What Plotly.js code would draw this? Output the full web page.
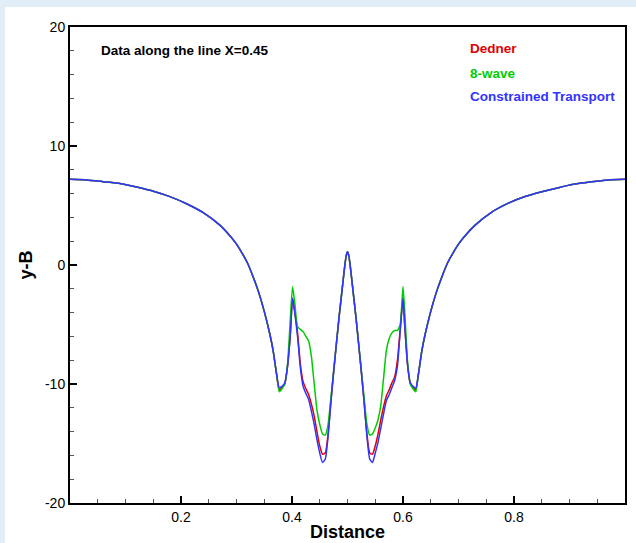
<!DOCTYPE html>
<html>
<head>
<meta charset="utf-8">
<script src="https://cdn.plot.ly/plotly-3.0.1.min.js"></script>
<style>
  html, body { margin: 0; padding: 0; background: #e1eef7; width: 636px; height: 543px; overflow: hidden; }
  #chart { position: absolute; left: 5px; top: 7px; width: 631px; height: 536px; background: #ffffff; }
</style>
</head>
<body>
<div id="chart"></div>
<script>
// Distance along the line
const distance = [
  0.000, 0.030, 0.060, 0.090, 0.120, 0.150, 0.180, 0.210, 0.240, 0.270,
  0.290, 0.300, 0.310, 0.320, 0.330, 0.340, 0.350, 0.360, 0.366, 0.372,
  0.377, 0.382, 0.387, 0.392, 0.397, 0.401, 0.405, 0.410, 0.415, 0.420,
  0.425, 0.430, 0.435, 0.440, 0.445, 0.450, 0.455, 0.460, 0.465, 0.470,
  0.475, 0.480, 0.485, 0.490, 0.495, 0.4975, 0.500, 0.5025, 0.505, 0.510,
  0.515, 0.520, 0.525, 0.530, 0.535, 0.540, 0.545, 0.550, 0.555, 0.560,
  0.565, 0.570, 0.575, 0.580, 0.585, 0.590, 0.595, 0.600, 0.603, 0.608,
  0.613, 0.618, 0.623, 0.628, 0.634, 0.640, 0.650, 0.660, 0.670, 0.680,
  0.690, 0.700, 0.710, 0.730, 0.760, 0.790, 0.820, 0.850, 0.880, 0.910,
  0.940, 0.970, 1.000
];

const dedner = [
  7.20, 7.15, 7.00, 6.85, 6.55, 6.20, 5.75, 5.15, 4.40, 3.35,
  2.35, 1.75, 1.00, 0.15, -1.00, -2.30, -3.90, -5.80, -7.20, -9.10,
  -10.50, -10.30, -10.00, -8.50, -5.80, -2.80, -3.90, -5.70, -8.30, -9.80,
  -10.40, -10.90, -11.70, -12.70, -14.00, -15.20, -15.90, -15.80, -14.20, -11.50,
  -9.00, -6.60, -4.30, -2.20, -0.10, 0.75, 1.12, 0.75, -0.10, -2.20,
  -4.30, -6.60, -9.00, -11.50, -14.20, -15.80, -15.90, -15.20, -14.20, -13.00,
  -11.90, -11.00, -10.50, -9.90, -9.40, -8.00, -5.40, -2.80, -5.00, -8.30,
  -9.90, -10.30, -10.50, -9.10, -7.20, -5.80, -3.90, -2.30, -1.00, 0.15,
  1.00, 1.75, 2.35, 3.35, 4.45, 5.20, 5.75, 6.15, 6.50, 6.80,
  7.00, 7.15, 7.20
];

const eightWave = [
  7.20, 7.15, 7.00, 6.85, 6.55, 6.20, 5.75, 5.15, 4.40, 3.35,
  2.35, 1.75, 1.00, 0.15, -1.00, -2.30, -3.90, -5.80, -7.20, -9.10,
  -10.65, -10.40, -10.00, -8.30, -4.50, -1.80, -3.20, -5.20, -5.40, -5.60,
  -6.00, -6.40, -7.70, -10.00, -12.20, -13.40, -14.20, -14.30, -13.40, -11.20,
  -8.90, -6.60, -4.30, -2.20, -0.10, 0.75, 1.12, 0.75, -0.10, -2.20,
  -4.30, -6.60, -8.90, -11.20, -13.40, -14.30, -14.20, -13.70, -13.00, -11.80,
  -9.50, -7.20, -6.20, -5.70, -5.50, -5.50, -5.00, -1.80, -3.80, -8.00,
  -10.00, -10.40, -10.65, -9.10, -7.20, -5.80, -3.90, -2.30, -1.00, 0.15,
  1.00, 1.75, 2.35, 3.35, 4.45, 5.20, 5.75, 6.15, 6.50, 6.80,
  7.00, 7.15, 7.20
];

const constrainedTransport = [
  7.20, 7.15, 7.00, 6.85, 6.55, 6.20, 5.75, 5.15, 4.40, 3.35,
  2.35, 1.75, 1.00, 0.15, -1.00, -2.30, -3.90, -5.80, -7.20, -9.10,
  -10.30, -10.20, -9.90, -8.50, -5.80, -2.80, -4.00, -6.00, -8.60, -10.20,
  -10.80, -11.30, -12.30, -13.40, -14.70, -15.80, -16.60, -16.30, -14.40, -11.60,
  -9.00, -6.60, -4.30, -2.20, -0.10, 0.75, 1.12, 0.75, -0.10, -2.20,
  -4.30, -6.60, -9.00, -11.60, -14.40, -16.30, -16.60, -15.80, -14.90, -13.70,
  -12.50, -11.40, -10.90, -10.30, -9.70, -8.50, -5.50, -2.80, -5.00, -8.30,
  -9.90, -10.20, -10.35, -9.10, -7.20, -5.80, -3.90, -2.30, -1.00, 0.15,
  1.00, 1.75, 2.35, 3.35, 4.45, 5.20, 5.75, 6.15, 6.50, 6.80,
  7.00, 7.15, 7.20
];

const seriesNames = ["Dedner", "8-wave", "Constrained Transport"];
const seriesColors = ["#e00000", "#00cc00", "#3333ff"];
const xTickVals = [0.2, 0.4, 0.6, 0.8];
const xTickText = ["0.2", "0.4", "0.6", "0.8"];
const yTickVals = [-20, -10, 0, 10, 20];
const yTickText = ["-20", "-10", "0", "10", "20"];
const chartNote = "Data along the line X=0.45";

const ys = [dedner, eightWave, constrainedTransport];
const traces = ys.map((y, i) => ({
  type: "scatter",
  mode: "lines",
  x: distance,
  y: y,
  name: seriesNames[i],
  line: { color: seriesColors[i], width: 1.5, shape: "spline", smoothing: 0.5 },
  showlegend: false
}));

const font = "Liberation Sans, Arial, Helvetica, sans-serif";
const legendY = [0.954, 0.903, 0.853];
const annotations = [{
  xref: "paper", yref: "paper", x: 0.052, y: 0.950,
  xanchor: "left", yanchor: "middle", showarrow: false,
  text: "<b>" + chartNote + "</b>",
  font: { family: font, size: 13.5, color: "#000000" }
}].concat(seriesNames.map((n, i) => ({
  xref: "paper", yref: "paper", x: 0.717, y: legendY[i],
  xanchor: "left", yanchor: "middle", showarrow: false,
  text: "<b>" + n + "</b>",
  font: { family: font, size: 13.5, color: seriesColors[i] }
})));

const layout = {
  width: 631, height: 536,
  margin: { l: 65, r: 11, t: 20, b: 40 },
  paper_bgcolor: "#ffffff",
  plot_bgcolor: "#ffffff",
  font: { family: font, size: 14, color: "#000000" },
  xaxis: {
    range: [0, 1],
    tickmode: "array", tickvals: xTickVals, ticktext: xTickText,
    ticks: "inside", ticklen: 7, tickwidth: 2, tickcolor: "#000000",
    minor: { tickmode: "linear", tick0: 0, dtick: 0.05, ticks: "inside", ticklen: 4, tickwidth: 1, tickcolor: "#555555" },
    showline: true, linewidth: 2, linecolor: "#000000", mirror: true,
    showgrid: false, zeroline: false,
    tickfont: { family: font, size: 14, color: "#000000" },
    title: { text: "<b>Distance</b>", font: { family: font, size: 18, color: "#000000" }, standoff: 2 }
  },
  yaxis: {
    range: [-20, 20],
    tickmode: "array", tickvals: yTickVals, ticktext: yTickText,
    ticks: "inside", ticklen: 7, tickwidth: 2, tickcolor: "#000000",
    minor: { tickmode: "linear", tick0: 0, dtick: 2, ticks: "inside", ticklen: 4, tickwidth: 1, tickcolor: "#555555" },
    showline: true, linewidth: 2, linecolor: "#000000", mirror: true,
    showgrid: false, zeroline: false,
    tickfont: { family: font, size: 14, color: "#000000" },
    title: { text: "<b>y-B</b>", font: { family: font, size: 18, color: "#000000" }, standoff: 8 }
  },
  annotations: annotations
};

Plotly.newPlot("chart", traces, layout, { displayModeBar: false, staticPlot: true });
</script>
</body>
</html>
